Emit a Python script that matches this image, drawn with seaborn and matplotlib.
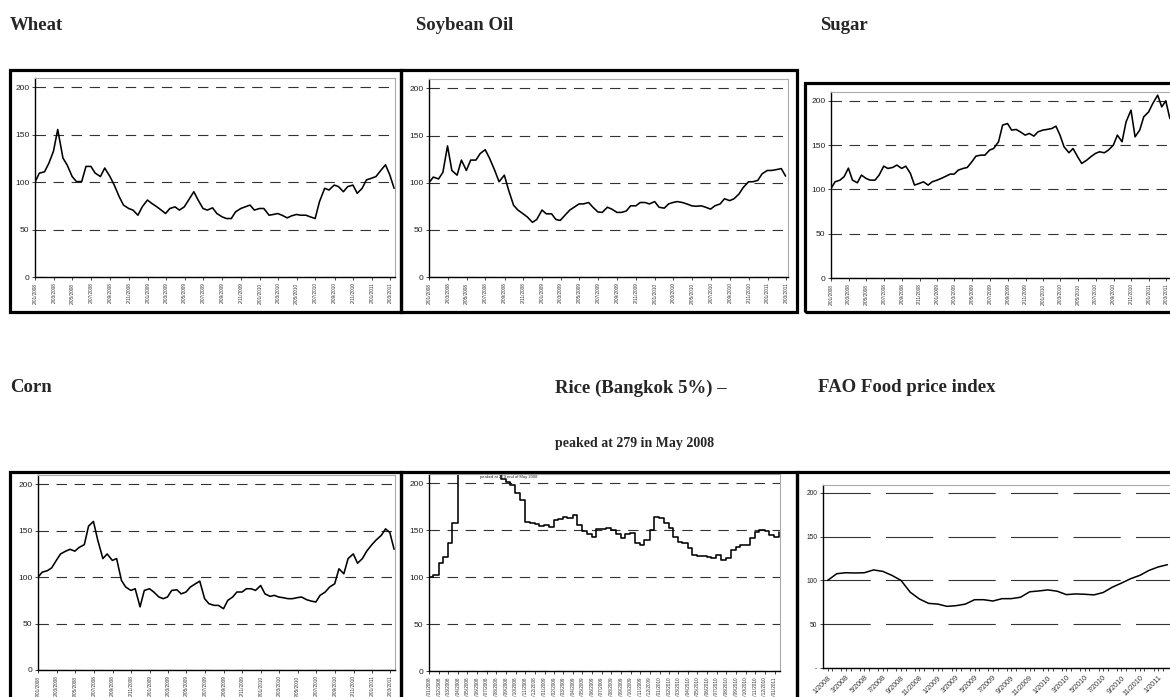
import numpy as np
import pandas as pd
import matplotlib
matplotlib.use('Agg')
import matplotlib.pyplot as plt
from matplotlib.patches import Rectangle
import seaborn as sns

sns.set_style('white')
plt.rcParams['font.family'] = ['Liberation Sans', 'DejaVu Sans']
plt.rcParams['lines.scale_dashes'] = False

W, H = 1170, 697

# semi-monthly readings (1st / 15th), index = 100 at start of 2008
wheat = [100, 109.6, 111, 120, 132.6, 155.7, 125.5, 118, 106, 100.7,
         100.7, 116.7, 116.7, 109.6, 106, 115, 106, 97, 84.8, 75.9,
         72.3, 70.6, 65.2, 74, 81.2, 77.7, 74, 70.6, 67, 72.3,
         74, 70.6, 74, 81.2, 90, 81.2, 72.3, 70.6, 73, 67,
         63.5, 61.7, 61.7, 68.8, 72.3, 74, 75.9, 70.6, 72.3, 72.3,
         65.2, 66, 67, 65.2, 62.4, 64.5, 66, 65.2, 65.2, 63.5,
         61.7, 79.4, 93.6, 91.8, 97, 95.4, 90, 95.4, 97, 88.3,
         93.6, 102.5, 104.3, 106, 113, 118.4, 107.8, 93.6]
soybean_oil = [100, 106, 104, 111, 139, 113, 108, 124, 113, 124,
               124, 131, 135, 126, 113, 101, 108, 92, 76, 71,
               67, 63.5, 58, 61, 71, 67, 67, 61, 60, 65,
               71, 74, 77.5, 77.5, 79, 74, 69, 68.5, 74, 72,
               68.5, 68.5, 70, 75.5, 75.5, 79, 79, 77.5, 80, 74,
               73, 77.5, 79, 80, 79, 77.5, 75.5, 75, 75.5, 74,
               72, 75.5, 77.5, 83, 81, 83, 88, 95, 101, 101,
               102.5, 109.5, 113, 113, 114, 115, 107]
sugar = [101, 108.6, 110.5, 114.3, 124, 110.5, 107.5, 116.2, 112.4, 110.5,
         110.5, 116.2, 126.3, 123.7, 124.8, 127.5, 123.7, 126.3, 118, 104.9,
         106.8, 108.6, 104.9, 108.6, 110.5, 112.4, 115, 117.3, 117.3, 121.8,
         123.7, 124.8, 131.2, 137.6, 138.7, 138.7, 144.4, 146.2, 153.8, 172.6,
         174.4, 167, 167.7, 165, 161.3, 163.2, 160.2, 165, 167, 167.7,
         168.8, 171.4, 161.3, 148.1, 141.4, 146.2, 136.8, 129.3, 133, 136.8,
         140.6, 142.5, 141.4, 144.4, 150, 161.3, 153.8, 176.3, 189.5, 159.4,
         167, 182, 187.6, 197, 206.4, 193.2, 200, 180]
corn = [100, 105.4, 107, 110, 118, 125, 128, 130, 128, 132,
        135, 155, 160, 140, 120, 125, 118, 120, 96.4, 89.3,
        85.7, 87.5, 68, 85.7, 87.5, 84, 78.6, 76.8, 78.6, 85.7,
        86.4, 82, 84, 89.3, 92.9, 95.7, 76.8, 71.4, 69.6, 69.6,
        66, 75, 78.6, 84, 84, 87.5, 87.5, 85.7, 91, 82,
        79.3, 80.4, 78.6, 77.9, 76.8, 76.8, 77.9, 78.6, 75.7, 74.3,
        73.2, 80.4, 84, 89.3, 92.9, 109, 103.6, 120, 125, 115,
        120, 128, 135, 140, 145, 152, 148, 130]
rice = [100, 102.5, 115, 122, 136, 157.5, 215, 255, 272, 279,
        270, 250, 235, 225, 212, 205, 202, 198, 189.5, 182.4,
        159.3, 158.2, 156.8, 154.7, 155.4, 154, 161, 161.8, 164, 162.8,
        166.4, 155.7, 149.7, 146.2, 143.3, 151, 151, 152.2, 150.4, 146.2,
        141.5, 146.2, 147.6, 136.2, 134.4, 139.8, 150.4, 164.6, 162.8, 157.5,
        152.2, 143.3, 138, 136.2, 130.9, 123.8, 122.7, 122.7, 122, 120.2,
        123.8, 118.5, 120.2, 129.1, 132.7, 134.4, 134.4, 141.5, 148.6, 150.4,
        149.7, 145.1, 143.3, 148]
# FAO food price index, monthly Jan 2008 - Feb 2011
fao_index = [100, 107.7, 108.8, 108.5, 108.8, 112, 110.4, 105.8, 100, 86.5,
             78.8, 73.8, 73, 70.4, 71.2, 73, 78, 78, 76.5, 79.2,
             79.2, 80.8, 87, 88, 89.2, 87.7, 83.8, 84.6, 84.2, 83.5,
             86.2, 92.3, 97, 102, 105.8, 111.5, 115.4, 118]
fao_months = [f"{m}/{y}" for y in (2008, 2009, 2010, 2011) for m in range(1, 13)][:len(fao_index)]

y_ticks = [0, 50, 100, 150, 200]
start = pd.Timestamp('2008-01-01')

fig = plt.figure(figsize=(W / 100, H / 100), dpi=100)


def px_rect(l, t, r, b):
    return [l / W, 1 - b / H, (r - l) / W, (b - t) / H]


def frame(l, t, r, b):
    fig.patches.append(Rectangle((l / W, 1 - b / H), (r - l) / W, (b - t) / H,
                                 transform=fig.transFigure, fill=False,
                                 lw=2.3, ec='black', zorder=10))


def style_axes(ax, ytop, ylabsize=6):
    ax.set_ylim(0, ytop)
    ax.set_yticks(y_ticks)
    ax.grid(axis='y', ls=(0, (7.5, 5.5)), color='#333333', lw=0.8)
    ax.grid(axis='x', visible=False)
    for s in ['left', 'bottom']:
        ax.spines[s].set_color('black')
        ax.spines[s].set_linewidth(1.0)
    for s in ['top', 'right']:
        ax.spines[s].set_color('#aaaaaa')
        ax.spines[s].set_linewidth(0.8)
    ax.tick_params(axis='y', labelsize=ylabsize, length=2, width=0.6, pad=2,
                   left=True, labelcolor='#222222')
    ax.set_xlabel('')
    ax.set_ylabel('')


def date_panel(rect, vals, months_span, n_ticks, step, label_fmt, steps=False):
    ax = fig.add_axes(px_rect(*rect))
    dates = pd.date_range(start, periods=len(vals), freq='SMS')
    kw = {'drawstyle': 'steps-post'} if steps else {}
    sns.lineplot(x=dates, y=vals, ax=ax, color='black', lw=1.15, **kw)
    ax.set_xlim(start, start + pd.Timedelta(days=months_span * 30.44))
    ticks = pd.date_range(start, periods=n_ticks, freq=f'{step}MS') + pd.Timedelta(days=1)
    ax.set_xticks(ticks)
    ax.set_xticklabels([label_fmt(d) for d in ticks])
    ax.tick_params(axis='x', labelsize=3.4, rotation=90, length=2.5, width=0.6,
                   pad=1.5, bottom=True, labelcolor='#333333')
    style_axes(ax, 210)
    return ax


fmt2 = lambda d: f"{d.day}/{d.month:02d}/{d.year}"

# top row
date_panel((35, 78, 395, 277), wheat, 38.5, 20, 2, fmt2)
date_panel((429, 79, 788, 277), soybean_oil, 38.2, 20, 2, fmt2)
date_panel((831, 92, 1176, 278), sugar, 39.1, 20, 2, fmt2)
# bottom row
date_panel((38, 475, 395, 670), corn, 38.5, 20, 2, fmt2)
ax_rice = date_panel((429, 474, 780, 671), rice, 36.6, 37, 1,
                     lambda d: f"01/{d.month:02d}/{d.year}", steps=True)
ax_rice.text(0.145, 0.995, 'peaked at 279 end of May 2008', fontsize=3,
             va='top', transform=ax_rice.transAxes)

# FAO panel (monthly categories)
ax6 = fig.add_axes(px_rect(823, 485, 1172, 668))
sns.lineplot(x=np.arange(len(fao_index)), y=fao_index, ax=ax6, color='black', lw=1.1)
ax6.set_xlim(-0.5, len(fao_index) - 0.5)
ax6.set_xticks(np.arange(0, len(fao_index), 2))
ax6.set_xticklabels(fao_months[::2], rotation=45, ha='right', rotation_mode='anchor')
ax6.set_xticks(np.arange(len(fao_index)) + 0.5, minor=True)
ax6.tick_params(axis='x', which='both', labelsize=5.2, length=2.5, width=0.6,
                pad=2, bottom=True, labelcolor='#333333')
style_axes(ax6, 209, ylabsize=4.8)
ax6.grid(axis='y', ls=(0, (34, 11)), color='#333333', lw=0.8)
ax6.set_yticklabels(['-', '50', '100', '150', '200'])

# thick frames around each chart picture
frame(10, 70, 401, 312)
frame(401, 70, 797, 312)
frame(805, 83, 1176, 312)
frame(10, 472, 401, 705)
frame(401, 472, 797, 705)
frame(797, 472, 1176, 705)

title_kw = dict(family=['Liberation Serif', 'DejaVu Serif'], weight='bold',
                fontsize=13.5, va='center', ha='left')
fig.text(10 / W, 1 - 25 / H, 'Wheat', **title_kw)
fig.text(416 / W, 1 - 25 / H, 'Soybean Oil', **title_kw)
fig.text(820 / W, 1 - 25 / H, 'Sugar', **title_kw)
fig.text(10 / W, 1 - 388 / H, 'Corn', **title_kw)
fig.text(555 / W, 1 - 388 / H, 'Rice (Bangkok 5%) \u2013', **title_kw)
fig.text(818 / W, 1 - 388 / H, 'FAO Food price index', **title_kw)
fig.text(555 / W, 1 - 443 / H, 'peaked at 279 in May 2008',
         **{**title_kw, 'fontsize': 10})

fig.savefig('out.png', dpi=100)
